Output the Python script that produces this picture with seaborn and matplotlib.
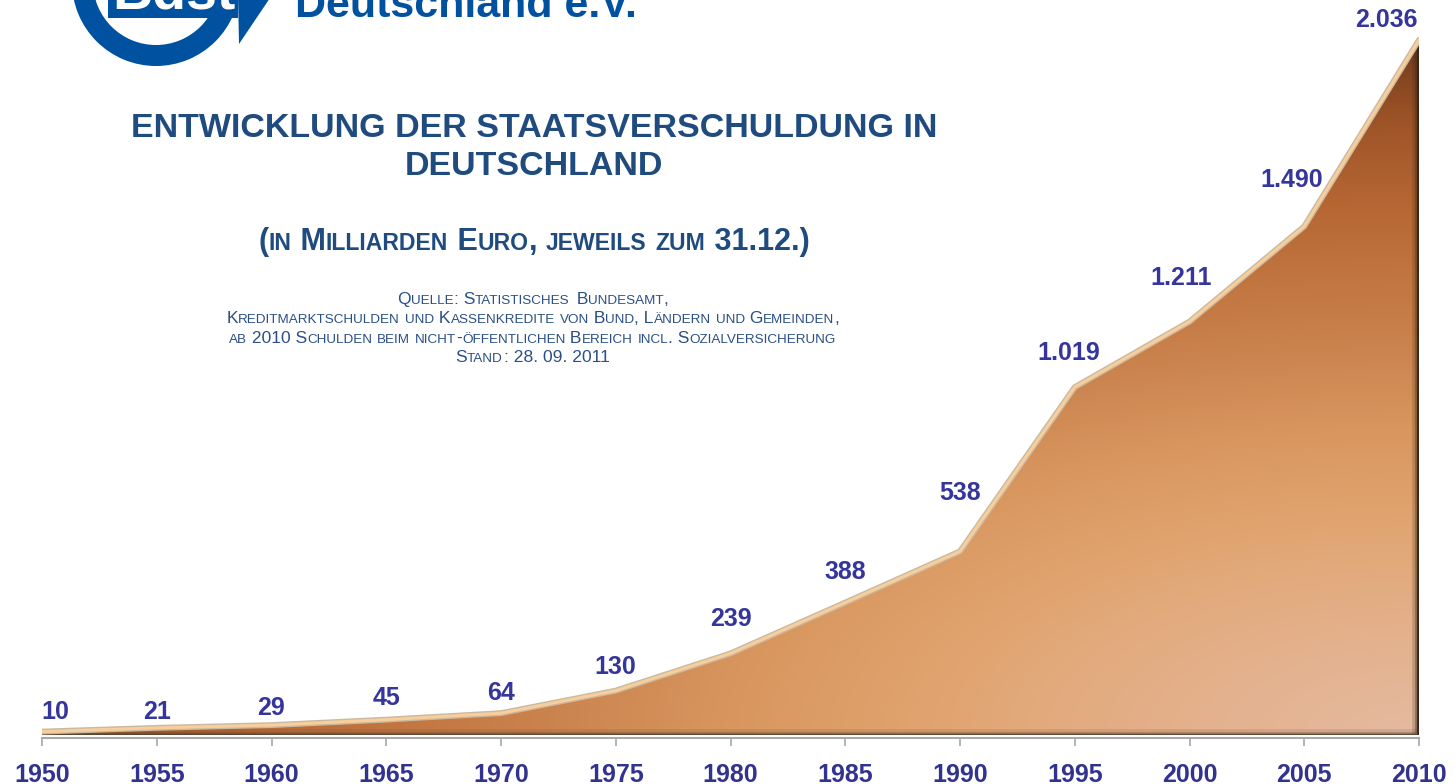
import numpy as np
import pandas as pd
import matplotlib
matplotlib.use("Agg")
import matplotlib.pyplot as plt
import seaborn as sns
from matplotlib.colors import LinearSegmentedColormap
from matplotlib.patches import Polygon, Wedge, Rectangle
from matplotlib import font_manager
from fontTools.ttLib import TTFont

# ---------------- data ----------------
years = [1950, 1955, 1960, 1965, 1970, 1975, 1980, 1985, 1990, 1995, 2000, 2005, 2010]
debt = [10, 21, 29, 45, 64, 130, 239, 388, 538, 1019, 1211, 1490, 2036]
tick_labels = [str(y) for y in years]
title_lines = ["ENTWICKLUNG DER STAATSVERSCHULDUNG IN", "DEUTSCHLAND"]
subtitle = "(in Milliarden Euro, jeweils zum 31.12.)"
source_lines = [
    "Quelle: Statistisches Bundesamt,",
    "Kreditmarktschulden und Kassenkredite von Bund, Ländern und Gemeinden,",
    "ab 2010 Schulden beim nicht-öffentlichen Bereich incl. Sozialversicherung",
    "Stand: 28. 09. 2011",
]
logo_word = "Bdst"
logo_text = "Deutschland e.V."

# label offsets (pixels: dx, dy above point) -- layout only
label_offsets_px = [(13, 20), (0, 16), (0, 17), (0, 22), (0, 20), (0, 24), (0, 34),
                    (0, 31), (0, 58), (-6, 34), (-8, 44), (-13, 46), (-33, 20)]

W, H = 1455, 784
sns.set_theme(style="white")
plt.rcParams["font.family"] = ["Liberation Sans", "DejaVu Sans"]

df = pd.DataFrame({"year": years, "debt": debt})

fig = plt.figure(figsize=(W / 100, H / 100), dpi=100)
fig.patch.set_facecolor("white")

# ---------------- background / logo layer ----------------
lax = fig.add_axes([0, 0, 1, 1], zorder=0)
lax.set_xlim(0, W)
lax.set_ylim(H, 0)
lax.axis("off")
blue = "#0052a0"
lax.add_patch(Wedge((156, -18), 84, 0, 360, width=21, color=blue, lw=0))
lax.add_patch(Rectangle((108, -20), 130, 38, color=blue, lw=0))
lax.add_patch(Polygon([(238, -5), (272, -5), (239, 44)], closed=True, color=blue, lw=0))
lax.text(112, 8, logo_word, color="white", fontsize=40, fontweight="bold",
         ha="left", va="baseline")
lax.text(295, 17, logo_text, color=blue, fontsize=31, fontweight="bold",
         ha="left", va="baseline")

# ---------------- chart axes ----------------
ax = fig.add_axes([42 / W, 1 - 735 / H, 1377 / W, 735 / H], zorder=2)
ax.set_facecolor("none")
ax.set_xlim(1950, 2010)
ax.set_ylim(0, 2153)

# gradient fill clipped to the area
verts = [(years[0], 0)] + list(zip(years, debt)) + [(years[-1], 0)]
area = Polygon(verts, closed=True, fc="none", ec="none", transform=ax.transData)
ax.add_patch(area)
cmap = LinearSegmentedColormap.from_list("brown", [
    (0.0, "#e5baa0"), (0.18, "#e3ae86"), (0.3, "#e1a470"), (0.42, "#d9975f"),
    (0.52, "#cd8651"), (0.63, "#c27641"), (0.74, "#b56633"), (0.85, "#9f5428"),
    (0.93, "#7e4220"), (1.0, "#4f2c14")])
nx, ny = 700, 700
u = np.linspace(0, 1, nx)
v = np.linspace(0, 2153 / 2036, ny)
U, V = np.meshgrid(u, v)
T = np.sqrt((1.15 * (1 - U)) ** 2 + (1.3 * V) ** 2)
img = ax.imshow(T, extent=[1950, 2010, 0, 2153], origin="lower", aspect="auto",
                cmap=cmap, vmin=0, vmax=1.35, interpolation="bilinear", zorder=1)
img.set_clip_path(area)

# right edge shadow & bottom edge
for lw, a in [(10, 0.18), (6, 0.35), (3, 1.0)]:
    ln, = ax.plot([years[-1], years[-1]], [0, debt[-1]], color="#3a2818", lw=lw,
                  alpha=a, zorder=2, solid_capstyle="butt")
    ln.set_clip_path(area)
for lw, a in [(9, 0.15), (4, 0.35), (2.5, 0.9)]:
    ln, = ax.plot([years[0], years[-1]], [0, 0], color="#5a4230", lw=lw, alpha=a,
                  zorder=2, solid_capstyle="butt")
    ln.set_clip_path(area)
ax.plot([years[-1], years[-1]], [0, debt[-1]], color="#3a2818", lw=2.5, zorder=3,
        solid_capstyle="butt")

# top edge highlight
sns.lineplot(data=df, x="year", y="debt", color="#c9b9a0", lw=4.2, ax=ax, zorder=4)
sns.lineplot(data=df, x="year", y="debt", color="#f8cf9c", lw=2.2, ax=ax, zorder=5)

# axes styling
for s in ["top", "right", "left"]:
    ax.spines[s].set_visible(False)
ax.spines["bottom"].set_color("#a8a8a8")
ax.spines["bottom"].set_linewidth(1.5)
ax.spines["bottom"].set_position(("outward", 2))
ax.set_xticks(years)
ax.set_xticklabels(tick_labels)
ax.set_yticks([])
ax.tick_params(axis="x", length=6, width=1.2, color="#a8a8a8", pad=12,
               labelsize=18, labelcolor="#32338f", bottom=True)
for lbl in ax.get_xticklabels():
    lbl.set_fontweight("bold")
ax.set_xlabel("")
ax.set_ylabel("")
ax.grid(False)

# value labels
for (yr, val), (dx, dy) in zip(zip(years, debt), label_offsets_px):
    txt = f"{val:,}".replace(",", ".")
    ax.annotate(txt, (yr, val), xytext=(dx * 0.72, dy * 0.72), textcoords="offset points",
                ha="center", va="center", fontsize=18, fontweight="bold",
                color="#35359c", zorder=6, annotation_clip=False)

# ---------------- titles ----------------
title_color = "#1f4b7f"
lax.text(534, 137, title_lines[0], color=title_color, fontsize=24.5, fontweight="bold",
         ha="center", va="baseline")
lax.text(534, 175, title_lines[1], color=title_color, fontsize=24.5, fontweight="bold",
         ha="center", va="baseline")

fp_b = font_manager.findfont(font_manager.FontProperties(family="Liberation Sans", weight="bold"))
fp_r = font_manager.findfont(font_manager.FontProperties(family="Liberation Sans", weight="normal"))


def make_adv(path):
    f = TTFont(path)
    cmap_ = f.getBestCmap()
    hm = f["hmtx"]
    upm = f["head"].unitsPerEm

    def adv(s, size):
        return sum(hm[cmap_.get(ord(c), ".notdef")][0] for c in s) / upm * size * 100 / 72
    return adv


adv_b = make_adv(fp_b)
adv_r = make_adv(fp_r)


def smallcaps(text, cx, base, big, small, color, weight, adv):
    runs = []
    for ch in text:
        if ch.islower():
            item = (ch.upper(), small)
        else:
            item = (ch, big)
        if runs and runs[-1][1] == item[1]:
            runs[-1] = (runs[-1][0] + item[0], item[1])
        else:
            runs.append(item)
    total = sum(adv(s, sz) for s, sz in runs)
    x = cx - total / 2
    for s, sz in runs:
        lax.text(x, base, s, fontsize=sz, fontweight=weight, color=color,
                 ha="left", va="baseline")
        x += adv(s, sz)


smallcaps(subtitle, 534, 250, 22, 16.6, title_color, "bold", adv_b)
src_color = "#2b4f86"
for i, line in enumerate(source_lines):
    smallcaps(line, 533, 304 + i * 19.3, 12.6, 9.7, src_color, "normal", adv_r)

fig.savefig("out.png", dpi=100, facecolor="white")
